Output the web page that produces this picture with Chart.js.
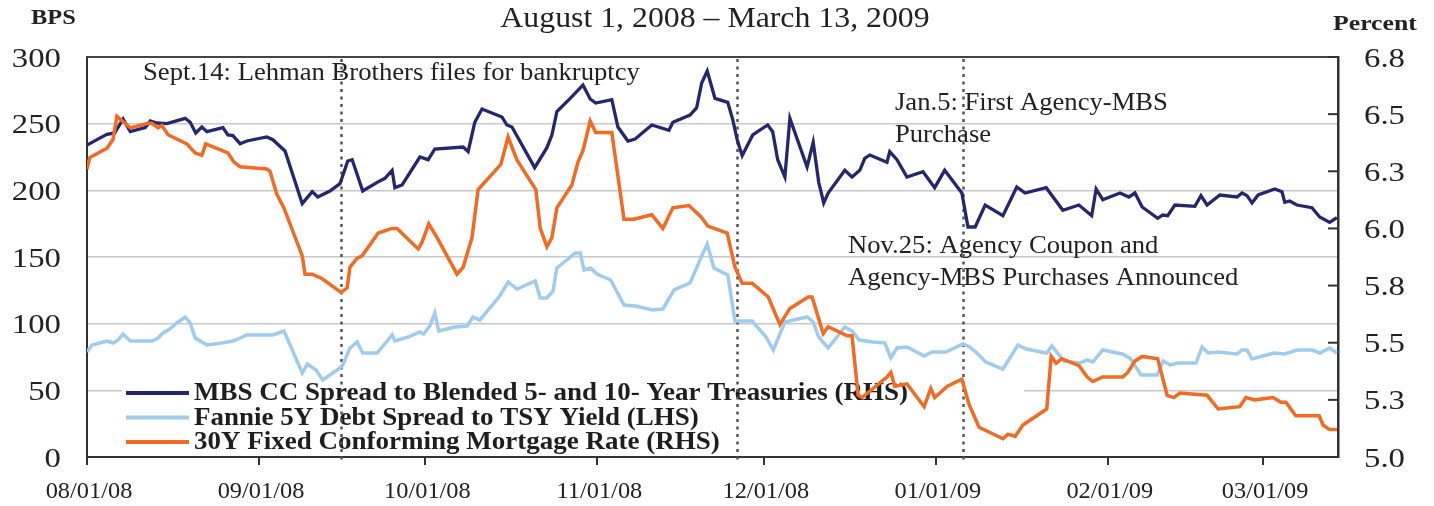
<!DOCTYPE html>
<html>
<head>
<meta charset="utf-8">
<script src="https://cdn.jsdelivr.net/npm/chart.js@4.4.1/dist/chart.umd.min.js"></script>
<style>
  html, body { margin: 0; padding: 0; background: #fff; }
  #wrap { width: 1434px; height: 506px; position: relative; }
</style>
</head>
<body>
<div id="wrap"><canvas id="chart" width="1434" height="506"></canvas></div>
<script>
// x values are days counted from 08/01/08
const monthTickDays = [0, 31, 61, 92, 122, 153, 184, 212];
const monthLabels = ['08/01/08', '09/01/08', '10/01/08', '11/01/08', '12/01/08', '01/01/09', '02/01/09', '03/01/09'];

// MBS CC spread (bps)
const mbsDays = [0, 1.8, 3.6, 5.0, 6.5, 7.8, 10.5, 11.4, 12.6, 14.4, 17.7, 18.6, 19.6, 20.7, 21.6, 24.5, 25.4, 26.3, 27.6, 28.8,
  32.4, 33.5, 35.7, 38.8, 40.6, 41.6, 43.8, 45.6, 47.0, 47.8, 49.7, 52.3, 53.7, 55.0, 55.5, 56.8, 60.0, 61.5, 62.7, 67.8,
  68.7, 69.9, 71.2, 74.8, 75.7, 76.6, 80.7, 82.9, 83.8, 84.7, 87.1, 89.4, 90.7, 91.7, 94.6, 95.7, 97.5, 98.8, 101.8, 104.9,
  105.6, 108.7, 109.9, 110.8, 111.8, 113.2, 115.5, 116.4, 117.2, 118.1, 120.0, 122.7, 123.6, 124.5, 125.8, 126.7, 129.8, 130.9, 131.9, 132.8,
  133.6, 136.6, 137.9, 139.3, 140.2, 141.1, 144.2, 144.7, 146.0, 147.8, 150.7, 152.8, 154.6, 157.7, 158.8, 160.1, 161.9, 165.1, 167.6, 169.1,
  172.9, 175.9, 178.8, 181.1, 181.9, 183.1, 186.2, 187.8, 188.9, 190.2, 193.0, 193.9, 194.8, 196.1, 199.7, 200.8, 201.9, 204.2, 207.3, 208.2,
  209.1, 210.0, 211.1, 214.1, 215.4, 215.9, 216.8, 218.1, 220.8, 222.2, 224.0, 225.3];
const mbsSpread = [234, 238, 242, 243, 253.5, 244, 247, 252, 250.5, 250, 254, 251, 243, 247.5, 244, 247, 241.5, 241, 235, 237,
  240, 238, 229.5, 190, 199, 195, 199.5, 205, 222, 223, 199.5, 206, 209, 215, 202, 204, 225, 223, 231, 232.5,
  229, 251, 261, 255, 249, 247.5, 217, 232, 241.5, 259, 269, 279, 268.5, 265.5, 268, 247.5, 237, 238.5, 249, 245,
  251, 256.5, 262, 280.5, 289.5, 269, 266, 253, 238, 226, 241.5, 249, 244, 223, 210, 254, 217.5, 236, 206, 190.5,
  198, 215, 210, 215, 224, 226.5, 221, 229, 223, 210, 214, 202, 215, 198, 172.5, 172.5, 189, 181, 202.5, 198,
  202, 185, 189, 181, 201, 193, 198, 195, 198, 187.5, 179, 181.5, 181, 189, 188, 196, 189, 196.5, 195, 198,
  196, 190.5, 196.5, 201, 199, 191, 192, 189, 187, 180, 176, 179.5];

// Fannie 5Y debt spread (bps)
const fannieDays = [0, 0.9, 3.6, 4.7, 5.6, 6.5, 7.8, 11.7, 12.8, 13.7, 14.9, 16.2, 17.7, 18.6, 19.5, 21.6, 24.3, 26.3, 27.6, 28.8,
  33.5, 35.5, 38.8, 39.7, 41.3, 42.5, 45.6, 46.1, 47.4, 48.7, 49.7, 52.3, 55.0, 55.5, 57.9, 60.0, 60.7, 61.8, 62.7, 63.4,
  66.3, 68.5, 69.6, 70.8, 74.4, 75.9, 77.5, 80.8, 81.7, 82.9, 84.0, 84.7, 86.5, 88.0, 88.9, 89.6, 90.8, 91.9, 94.4, 96.8,
  98.8, 102.0, 103.8, 105.8, 108.7, 110.8, 111.8, 113.0, 115.5, 116.8, 119.9, 122.4, 123.7, 125.8, 129.8, 130.9, 131.9, 133.6, 136.6, 137.9,
  139.2, 141.7, 143.8, 144.9, 146.0, 147.8, 150.9, 152.3, 154.8, 157.9, 159.1, 160.4, 162.0, 165.1, 167.8, 169.3, 173.0, 173.9, 176.1, 179.0,
  180.3, 181.3, 183.1, 186.6, 188.0, 190.0, 192.9, 194.0, 195.2, 196.7, 199.9, 201.0, 202.1, 203.9, 207.3, 208.2, 209.1, 210.0, 213.9, 215.9,
  218.1, 220.8, 222.2, 224.0, 225.3];
const fannieSpread = [78.75, 84, 87, 85.5, 87.75, 92.25, 87, 87, 89.25, 93, 96, 100.5, 105, 100.5, 89.25, 84, 85.5, 87, 89.25, 91.5,
  91.5, 94.5, 63, 69.75, 65.25, 57.75, 66.75, 69, 81.75, 86.25, 78, 78, 91.5, 87, 90, 93.75, 92.25, 98.25, 108, 94.5,
  97.5, 98.25, 105, 102.75, 120.75, 131.25, 126, 132, 119.25, 119.25, 124.5, 141.75, 147.75, 153, 153, 140.25, 141.75, 137.25, 132.75, 114,
  113.25, 110.25, 111, 125.25, 130.5, 150.75, 159.75, 141.75, 136.5, 102, 102, 90, 80.25, 101.25, 105, 101.25, 90, 81.75, 97.5, 94.5,
  87.75, 86.25, 85.5, 74.25, 81.75, 82.5, 75.75, 78.75, 78.75, 84.75, 82.5, 78, 71.25, 66, 84, 81, 78, 83.25, 72, 70.5,
  72.75, 71.25, 80.25, 77.25, 74.25, 61.5, 61.5, 72, 69, 70.5, 70.5, 82.5, 78, 78.75, 77.25, 80.25, 80.25, 73.5, 78, 77.25,
  80.25, 80.25, 78, 81.75, 78];

// 30Y fixed conforming mortgage rate (percent)
const rateDays = [0, 0.5, 2.0, 3.6, 4.7, 5.4, 7.8, 11.0, 11.7, 12.8, 13.5, 14.6, 18.0, 19.5, 20.7, 21.4, 25.4, 26.5, 27.6, 32.4,
  33.0, 34.2, 35.5, 38.8, 39.3, 40.6, 42.4, 45.8, 46.9, 47.4, 48.7, 49.6, 52.5, 55.0, 55.9, 59.7, 60.4, 61.6, 63.1, 66.7,
  67.8, 69.4, 70.5, 74.6, 75.9, 77.5, 80.9, 81.7, 82.9, 83.8, 84.7, 87.4, 88.5, 89.4, 90.7, 91.7, 94.6, 96.8, 98.6, 101.8,
  103.8, 105.6, 108.5, 110.7, 111.9, 115.4, 116.8, 118.1, 119.9, 122.8, 124.9, 126.7, 130.0, 130.7, 132.7, 133.6, 137.0, 137.9, 139.0, 139.7,
  144.2, 144.9, 145.6, 147.8, 150.9, 152.1, 152.8, 155.1, 157.7, 159.0, 160.8, 165.1, 166.0, 167.3, 168.7, 173.0, 173.8, 174.7, 175.7, 178.8,
  180.3, 181.3, 183.1, 186.7, 187.6, 188.9, 190.2, 193.0, 194.7, 195.9, 197.0, 201.9, 203.9, 207.8, 208.9, 210.5, 213.8, 215.2, 216.1, 217.9,
  221.2, 222.1, 222.8, 224.0, 225.3];
const mortgageRate = [6.26, 6.31, 6.33, 6.35, 6.39, 6.49, 6.44, 6.46, 6.46, 6.44, 6.45, 6.41, 6.37, 6.33, 6.32, 6.37, 6.33, 6.29, 6.27, 6.26,
  6.25, 6.15, 6.09, 5.88, 5.80, 5.80, 5.78, 5.72, 5.74, 5.83, 5.87, 5.88, 5.98, 6.00, 6.00, 5.91, 5.94, 6.02, 5.96, 5.80,
  5.83, 5.96, 6.17, 6.28, 6.40, 6.30, 6.17, 6.00, 5.92, 5.96, 6.09, 6.19, 6.29, 6.34, 6.47, 6.42, 6.42, 6.04, 6.04, 6.06,
  6.00, 6.09, 6.10, 6.05, 6.01, 5.98, 5.83, 5.76, 5.76, 5.70, 5.58, 5.65, 5.70, 5.70, 5.54, 5.57, 5.53, 5.53, 5.27, 5.26,
  5.35, 5.37, 5.31, 5.32, 5.22, 5.30, 5.26, 5.31, 5.34, 5.23, 5.13, 5.08, 5.10, 5.09, 5.14, 5.21, 5.44, 5.41, 5.43, 5.40,
  5.35, 5.33, 5.35, 5.35, 5.37, 5.42, 5.44, 5.43, 5.27, 5.26, 5.28, 5.27, 5.21, 5.22, 5.26, 5.25, 5.26, 5.24, 5.24, 5.18,
  5.18, 5.18, 5.14, 5.12, 5.12];

// event markers (day) and their notes
const eventDays = [45.8, 117.1, 157.9];
const notes = [
  { lines: ['Sept.14: Lehman Brothers files for bankruptcy'], x: 143, y: 80 },
  { lines: ['Jan.5: First Agency-MBS', 'Purchase'], x: 895, y: 110 },
  { lines: ['Nov.25: Agency Coupon and', 'Agency-MBS Purchases Announced'], x: 848, y: 253 }
];

const NAVY = '#24266e';
const LIGHT = '#9fcbee';
const ORANGE = '#f36a22';
const SERIF = '"Liberation Serif", "Times New Roman", serif';
const TEXT = '#222';

const legendItems = [
  { text: 'MBS CC Spread to Blended 5- and 10- Year Treasuries (RHS)', color: NAVY },
  { text: 'Fannie 5Y Debt Spread to TSY Yield (LHS)', color: LIGHT },
  { text: '30Y Fixed Conforming Mortgage Rate (RHS)', color: ORANGE }
];

function toPoints(xs, ys) {
  return xs.map((x, i) => ({ x, y: ys[i] }));
}

// the source picture is a bit wider than tall, so text gets a horizontal stretch
function stretchText(ctx, text, x, y, sx, align) {
  ctx.save();
  ctx.translate(x, y);
  ctx.scale(sx, 1);
  ctx.textAlign = align || 'left';
  ctx.fillText(text, 0, 0);
  ctx.restore();
}

const decorPlugin = {
  id: 'decor',
  beforeDatasetsDraw(chart) {
    const { ctx, chartArea: a, scales } = chart;
    ctx.save();
    ctx.textBaseline = 'alphabetic';

    // legend box (white, covers grid)
    ctx.fillStyle = '#fff';
    ctx.fillRect(122, 376, 902, 79);
    ctx.font = 'bold 25px ' + SERIF;
    legendItems.forEach((it, i) => {
      const y = 393 + i * 24.5;
      ctx.strokeStyle = it.color;
      ctx.lineWidth = 4;
      ctx.beginPath();
      ctx.moveTo(126, y);
      ctx.lineTo(189, y);
      ctx.stroke();
      ctx.fillStyle = '#1e1e1e';
      stretchText(ctx, it.text, 194, y + 7, 1.08);
    });

    // notes
    ctx.font = '25px ' + SERIF;
    ctx.fillStyle = TEXT;
    notes.forEach(n => {
      n.lines.forEach((t, i) => stretchText(ctx, t, n.x, n.y + i * 32, 1.065));
    });

    // dotted event lines
    ctx.strokeStyle = '#555';
    ctx.lineWidth = 2.5;
    ctx.setLineDash([3, 4.5]);
    eventDays.forEach(d => {
      const x = Math.round(scales.x.getPixelForValue(d)) + 0.5;
      ctx.beginPath();
      ctx.moveTo(x, a.top + 2);
      ctx.lineTo(x, a.bottom + 4);
      ctx.stroke();
    });
    ctx.setLineDash([]);

    // top frame line
    ctx.strokeStyle = '#444';
    ctx.lineWidth = 2;
    ctx.beginPath();
    ctx.moveTo(a.left, a.top);
    ctx.lineTo(a.right, a.top);
    ctx.stroke();

    // inner tick marks on right axis
    ctx.strokeStyle = '#333';
    ctx.lineWidth = 2;
    scales.y1.ticks.forEach(t => {
      const y = scales.y1.getPixelForValue(t.value);
      ctx.beginPath();
      ctx.moveTo(a.right - 10, y);
      ctx.lineTo(a.right, y);
      ctx.stroke();
    });
    ctx.restore();
  },
  afterDraw(chart) {
    const { ctx, chartArea: a, scales } = chart;
    ctx.save();
    ctx.fillStyle = TEXT;
    ctx.textBaseline = 'alphabetic';

    // axis tick labels
    ctx.font = '28px ' + SERIF;
    scales.y.ticks.forEach(t => {
      stretchText(ctx, String(t.value), 61, scales.y.getPixelForValue(t.value) + 9.5, 1.17, 'right');
    });
    scales.y1.ticks.forEach(t => {
      stretchText(ctx, t.value.toFixed(1), 1364, scales.y1.getPixelForValue(t.value) + 9.5, 1.17, 'left');
    });
    ctx.font = '23px ' + SERIF;
    scales.x.ticks.forEach((t, i) => {
      stretchText(ctx, monthLabels[i], scales.x.getPixelForValue(t.value) + 2, 498, 1.06, 'center');
    });

    // title and axis names
    ctx.font = '30px ' + SERIF;
    stretchText(ctx, 'August 1, 2008 \u2013 March 13, 2009', 715, 27, 1.06, 'center');
    ctx.font = 'bold 21px ' + SERIF;
    stretchText(ctx, 'BPS', 31, 24, 1.16);
    ctx.font = 'bold 22px ' + SERIF;
    stretchText(ctx, 'Percent', 1333, 30, 1.17);
    ctx.restore();
  }
};

new Chart(document.getElementById('chart'), {
  type: 'line',
  data: {
    datasets: [
      { label: '30Y Fixed Conforming Mortgage Rate (RHS)', data: toPoints(rateDays, mortgageRate), yAxisID: 'y1',
        borderColor: ORANGE, borderWidth: 3.5, pointRadius: 0, tension: 0 },
      { label: 'Fannie 5Y Debt Spread to TSY Yield (LHS)', data: toPoints(fannieDays, fannieSpread), yAxisID: 'y',
        borderColor: LIGHT, borderWidth: 3.5, pointRadius: 0, tension: 0 },
      { label: 'MBS CC Spread to Blended 5- and 10- Year Treasuries (RHS)', data: toPoints(mbsDays, mbsSpread), yAxisID: 'y',
        borderColor: NAVY, borderWidth: 3.3, pointRadius: 0, tension: 0 }
    ]
  },
  options: {
    responsive: false,
    animation: false,
    layout: { padding: { top: 57, left: 0, right: 0, bottom: 0 } },
    plugins: { legend: { display: false }, tooltip: { enabled: false }, title: { display: false } },
    scales: {
      x: {
        type: 'linear', min: 0, max: 225.5,
        afterBuildTicks: s => { s.ticks = monthTickDays.map(v => ({ value: v })); },
        afterFit: s => { s.height = 49; },
        grid: { drawOnChartArea: false, drawTicks: true, tickLength: 8, color: '#333', lineWidth: 2 },
        border: { display: true, color: '#333', width: 2 },
        ticks: { display: false, autoSkip: false, maxRotation: 0 }
      },
      y: {
        position: 'left', min: 0, max: 300,
        afterFit: s => { s.width = 87; },
        grid: { color: '#c8c8c8', lineWidth: 1.5, drawTicks: false },
        border: { display: true, color: '#333', width: 2 },
        ticks: { display: false, stepSize: 50 }
      },
      y1: {
        position: 'right', min: 5.0, max: 6.75,
        afterFit: s => { s.width = 96; },
        grid: { drawOnChartArea: false, drawTicks: false },
        border: { display: true, color: '#333', width: 2.5 },
        ticks: { display: false, stepSize: 0.25 }
      }
    }
  },
  plugins: [decorPlugin]
});
</script>
</body>
</html>
